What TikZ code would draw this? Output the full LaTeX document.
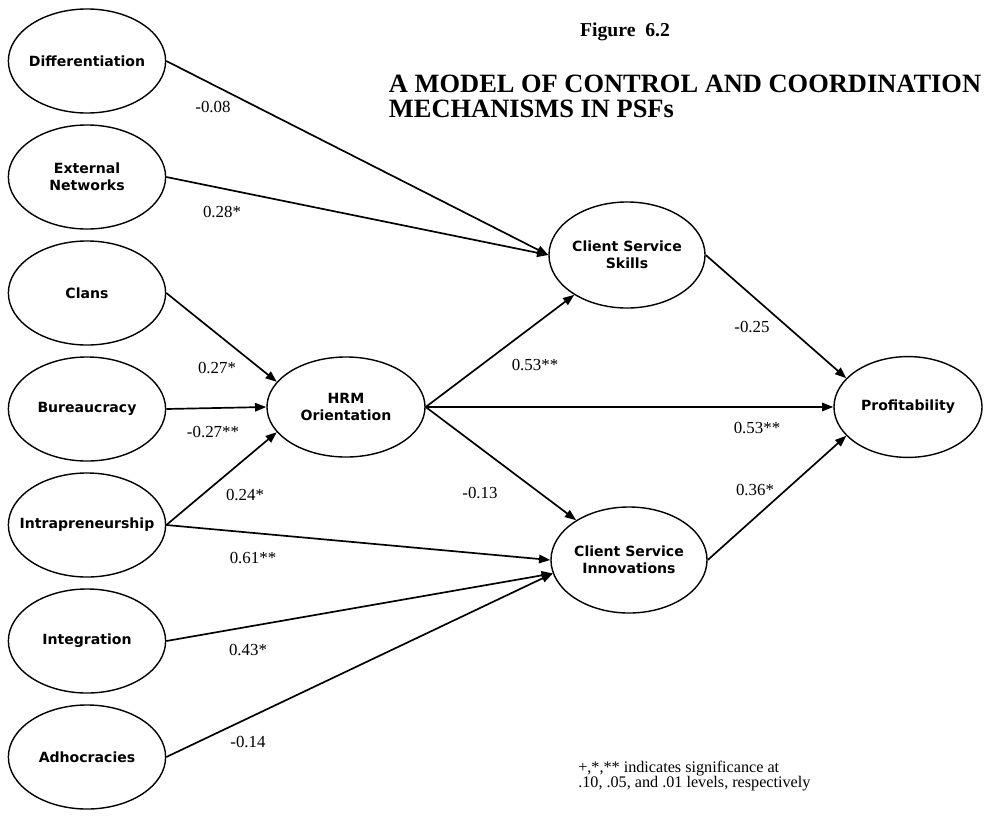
\documentclass[tikz,border=0pt]{standalone}
\usepackage{fontspec}
\setmainfont{Liberation Serif}
\newfontfamily\boxfont{DejaVu Sans}
\usetikzlibrary{shapes.geometric,arrows.meta}

\begin{document}
\begin{tikzpicture}[x=0.025cm,y=-0.025cm,
    latent/.style={ellipse,draw,line width=1pt,inner xsep=-10pt,inner ysep=0pt,align=center,
        minimum width=3.93cm,minimum height=2.6cm,
        font=\boxfont\bfseries\fontsize{10}{12}\selectfont},
    link/.style={line width=1.2pt,-{Triangle[length=8pt,width=6pt]}},
    coef/.style={font=\fontsize{12}{14}\selectfont}]
\useasboundingbox (0,0) rectangle (984,815);

\foreach \nm/\txt/\y in {diff/Differentiation/61, ext/External\\Networks/177,
    clan/Clans/293, bur/Bureaucracy/409, intra/Intrapreneurship/525,
    integ/Integration/641, adho/Adhocracies/757}
    \node[latent] (\nm) at (87,\y) {\txt};

\node[latent,minimum width=3.95cm,minimum height=2.5cm] (hrm) at (346,407) {HRM\\Orientation};
\node[latent,minimum width=3.9cm,minimum height=2.65cm] (css) at (627,255) {Client Service\\Skills};
\node[latent,minimum width=3.9cm,minimum height=2.65cm] (csi) at (629,560) {Client Service\\Innovations};
\node[latent,minimum width=3.7cm,minimum height=2.52cm] (prof) at (908,407) {Profitability};

\foreach \a/\b in {diff.east/css.west, ext.east/css.west, clan.east/hrm.160,
    bur.east/hrm.west, intra.east/hrm.200, hrm.east/css, hrm.east/prof.west,
    hrm.east/csi, intra.east/csi.west, integ.east/csi.190, adho.east/csi.190,
    css.east/prof.155, csi.east/prof.205}
    \draw[link] (\a) -- (\b);

\foreach \t/\x/\y [count=\i] in {-0.08/213/107, 0.28*/222/212, 0.27*/217/368,
    -0.27**/213/432, 0.24*/245/495, 0.61**/253/558, 0.43*/248/650,
    -0.14/248/742, 0.53**/535/365, 0.53**/757/428, -0.25/752/327,
    -0.13/480/493, 0.36*/755/490}
    \node[coef] (c\i) at (\x,\y) {\t};

\node[font=\bfseries\fontsize{14}{16}\selectfont,anchor=base] (fig) at (625,36) {Figure~~6.2};
\node[font=\bfseries\fontsize{18.8}{20}\selectfont,anchor=base west] (title) at (384,92)
    {A MODEL OF CONTROL AND COORDINATION};
\node[font=\bfseries\fontsize{18.8}{20}\selectfont,anchor=base west] (subtitle) at (384,117)
    {MECHANISMS IN PSFs};
\node[font=\fontsize{11.5}{10.8}\selectfont,align=left,anchor=west,inner sep=0pt] (note) at (578,776)
    {+,*,** indicates significance at\\.10, .05, and .01 levels, respectively};
\end{tikzpicture}
\end{document}
